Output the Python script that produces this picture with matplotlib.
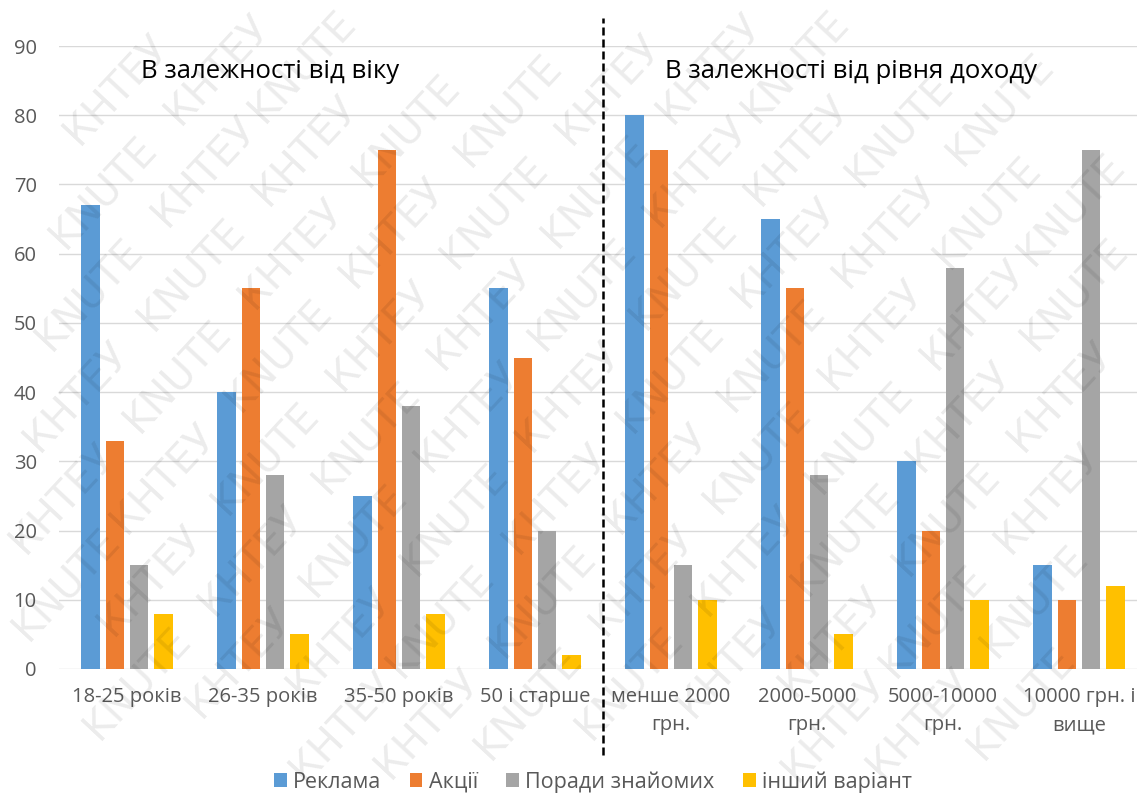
import numpy as np
import matplotlib
matplotlib.use("Agg")
import matplotlib.pyplot as plt

plt.rcParams['font.family'] = ['Open Sans', 'DejaVu Sans']

groups = ["18-25 років", "26-35 років", "35-50 років", "50 і старше",
          "менше 2000\nгрн.", "2000-5000\nгрн.", "5000-10000\nгрн.", "10000 грн. і\nвище"]
series = ["Реклама", "Акції", "Поради знайомих", "інший варіант"]
reklama = [67, 40, 25, 55, 80, 65, 30, 15]
aktsii = [33, 55, 75, 45, 75, 55, 20, 10]
porady = [15, 28, 38, 20, 15, 28, 58, 75]
inshyi = [8, 5, 8, 2, 10, 5, 10, 12]
values = [reklama, aktsii, porady, inshyi]
colors = ["#5B9BD5", "#ED7D31", "#A5A5A5", "#FFC000"]

W, H = 1137, 793
fig = plt.figure(figsize=(W / 100, H / 100), dpi=100)
# plot area: y=0 at 669px, y=90 at 46px, x from 59px to past the right edge
ax = fig.add_axes([59 / W, (H - 669) / H, 1088 / W, 623 / H])

x = np.arange(len(groups))
step = 0.178
width = 0.136
for j, (name, vals, c) in enumerate(zip(series, values, colors)):
    ax.bar(x + (j - 1.5) * step, vals, width, color=c, label=name, zorder=3)

ax.set_xlim(-0.5, 7.5)
ax.set_ylim(0, 90)
ax.set_yticks(range(0, 91, 10))
ax.set_xticks(x)
ax.set_xticklabels(groups, linespacing=1.55)
ax.grid(axis='y', color='#d9d9d9', lw=1, zorder=0)
ax.tick_params(length=0, labelcolor='#595959', labelsize=14.5)
ax.tick_params(axis='x', pad=13)
ax.tick_params(axis='y', pad=16)
for s in ax.spines.values():
    s.set_visible(False)

# dashed separator between the two groups of categories
ax.axvline(3.5, ymin=-0.138, ymax=1.045, color='black', lw=1.8,
           ls=(0, (3.2, 1.6)), clip_on=False, zorder=4)

fig.text(270 / W, (H - 72) / H, "В залежності від віку", ha='center', va='center',
         fontsize=18.5, color='black')
fig.text(851 / W, (H - 72) / H, "В залежності від рівня доходу", ha='center', va='center',
         fontsize=18.5, color='black')

fig.legend(loc='center', bbox_to_anchor=(593 / W, (H - 782) / H), ncol=4, frameon=False,
           fontsize=15.5, labelcolor='#595959', handlelength=0.6, handleheight=0.6,
           handletextpad=0.3, columnspacing=1.3)

# watermark: words along diagonal rows, only those fully inside the figure
rot = 47
ang = np.deg2rad(rot)
u = np.array([np.cos(ang), np.sin(ang)])
v = np.array([-np.sin(ang), np.cos(ang)])
words = ["КНТЕУ", "KNUTE"]
c0 = np.array([W / 2, H / 2])
fig.canvas.draw()
r = fig.canvas.get_renderer()
for k in range(-16, 17):
    for i in range(-8, 9):
        base = c0 + k * 60 * v + (i * 168 + (k % 2) * 84) * u
        if not (-120 < base[0] < W + 120 and -120 < base[1] < H + 120):
            continue
        t = fig.text(0, 0, words[(i + k) % 2], rotation=rot,
                     rotation_mode='anchor', ha='center', va='center',
                     fontsize=29, color='black', alpha=0.08,
                     family='DejaVu Sans', zorder=10)
        ok = False
        for sh in (0, 12, -12, 24, -24):
            p = base + sh * u
            t.set_position((p[0] / W, p[1] / H))
            bb = t.get_window_extent(r)
            if bb.x0 >= 1 and bb.y0 >= 1 and bb.x1 <= W - 1 and bb.y1 <= H - 1:
                ok = True
                break
        if not ok:
            t.remove()

fig.savefig("out.png", dpi=100)
